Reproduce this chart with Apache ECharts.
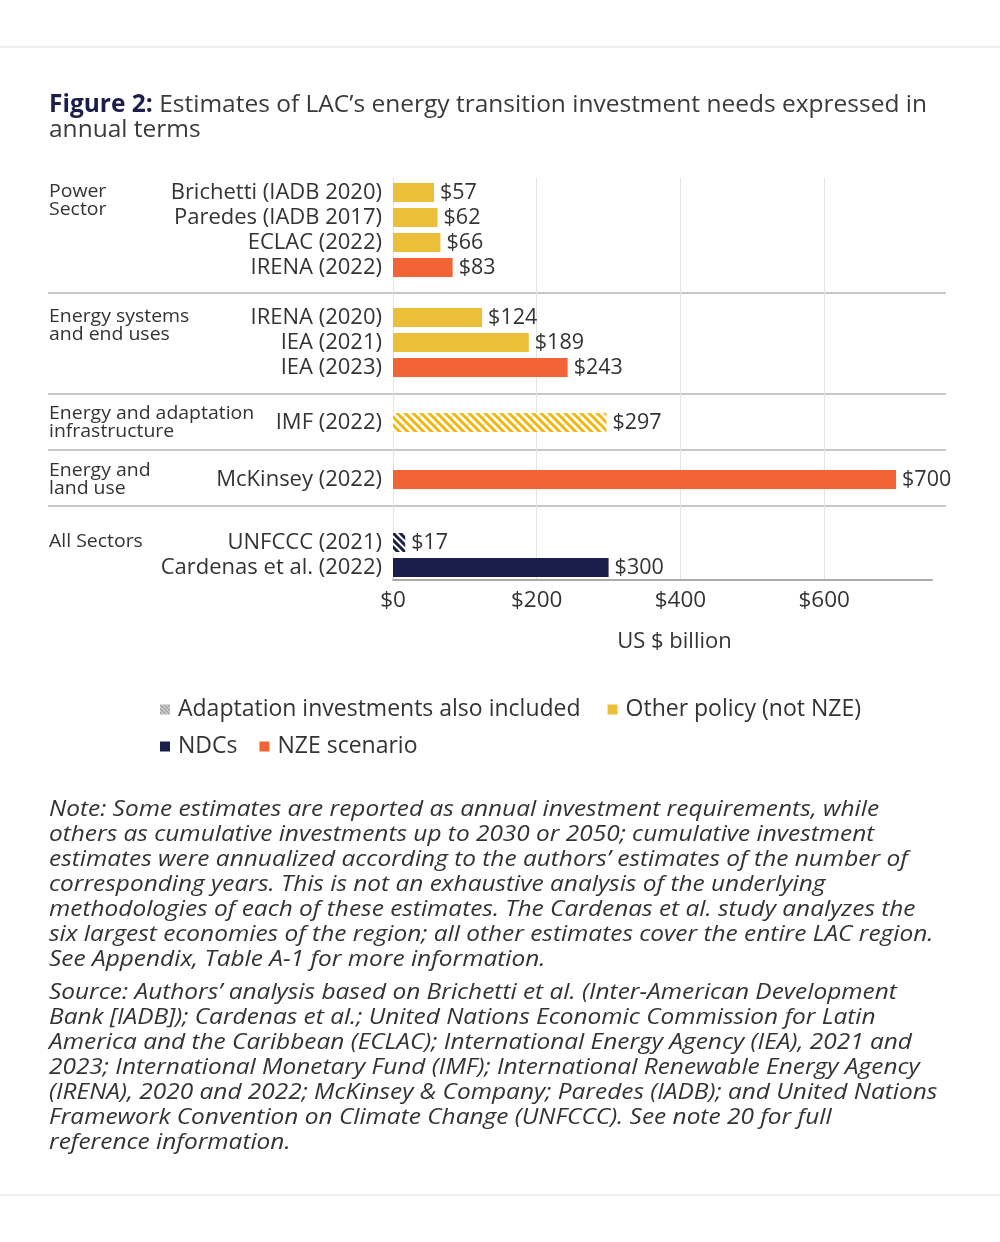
<!DOCTYPE html>
<html><head><meta charset="utf-8">
<script src="https://cdn.jsdelivr.net/npm/echarts@6/dist/echarts.min.js"></script>
<style>html,body{margin:0;padding:0;background:#fff}#c{width:1000px;height:1242px}</style>
</head><body><div id="c"></div>
<script>
const FONT = 'Open Sans';
const TXT = '#333333';

// ---- data ----
const powerCats = ['Brichetti (IADB 2020)', 'Paredes (IADB 2017)', 'ECLAC (2022)', 'IRENA (2022)'];
const powerVals = [57, 62, 66, 83];
const powerTypes = ['other', 'other', 'other', 'nze'];

const systemsCats = ['IRENA (2020)', 'IEA (2021)', 'IEA (2023)'];
const systemsVals = [124, 189, 243];
const systemsTypes = ['other', 'other', 'nze'];

const adaptCats = ['IMF (2022)'];
const adaptVals = [297];
const adaptTypes = ['otherAdapt'];

const landCats = ['McKinsey (2022)'];
const landVals = [700];
const landTypes = ['nze'];

const allCats = ['UNFCCC (2021)', 'Cardenas et al. (2022)'];
const allVals = [17, 300];
const allTypes = ['ndcAdapt', 'ndc'];

const groupLabels = ['Power\nSector', 'Energy systems\nand end uses', 'Energy and adaptation\ninfrastructure', 'Energy and\nland use', 'All Sectors'];
const legendRow1 = ['Adaptation investments also included', 'Other policy (not NZE)'];
const legendRow2 = ['NDCs', 'NZE scenario'];
const axisMin = 0, axisMax = 750, axisStep = 200;
const axisName = 'US $ billion';

const titleBold = 'Figure 2:';
const titleRest = ' Estimates of LAC\u2019s energy transition investment needs expressed in\nannual terms';

const noteLines = [
 'Note: Some estimates are reported as annual investment requirements, while',
 'others as cumulative investments up to 2030 or 2050; cumulative investment',
 'estimates were annualized according to the authors\u2019 estimates of the number of',
 'corresponding years. This is not an exhaustive analysis of the underlying',
 'methodologies of each of these estimates. The Cardenas et al. study analyzes the',
 'six largest economies of the region; all other estimates cover the entire LAC region.',
 'See Appendix, Table A-1 for more information.'
];
const sourceLines = [
 'Source: Authors\u2019 analysis based on Brichetti et al. (Inter-American Development',
 'Bank [IADB]); Cardenas et al.; United Nations Economic Commission for Latin',
 'America and the Caribbean (ECLAC); International Energy Agency (IEA), 2021 and',
 '2023; International Monetary Fund (IMF); International Renewable Energy Agency',
 '(IRENA), 2020 and 2022; McKinsey & Company; Paredes (IADB); and United Nations',
 'Framework Convention on Climate Change (UNFCCC). See note 20 for full',
 'reference information.'
];

// ---- styles ----
function stripes(fg, bg, size, lw) {
  const c = document.createElement('canvas');
  c.width = c.height = size;
  const g = c.getContext('2d');
  g.fillStyle = bg; g.fillRect(0, 0, size, size);
  g.strokeStyle = fg; g.lineWidth = lw;
  g.beginPath();
  for (let k = -1; k <= 1; k++) { g.moveTo(k * size - 1, -1); g.lineTo(k * size + size + 1, size + 1); }
  g.stroke();
  return { image: c, repeat: 'repeat' };
}
const YELLOW = '#ECBF3A', ORANGE = '#F26336', NAVY = '#1B1D4B';
const colors = {
  other: YELLOW,
  nze: ORANGE,
  ndc: NAVY,
  otherAdapt: stripes('#F5B70F', '#ffffff', 8, 3),
  ndcAdapt: stripes(NAVY, '#ffffff', 7, 3)
};
const adaptLegendColor = stripes('#999999', '#dddddd', 4, 1.5);

const groups = [
  { cats: powerCats, vals: powerVals, types: powerTypes, top: 180 },
  { cats: systemsCats, vals: systemsVals, types: systemsTypes, top: 305 },
  { cats: adaptCats, vals: adaptVals, types: adaptTypes, top: 410 },
  { cats: landCats, vals: landVals, types: landTypes, top: 467 },
  { cats: allCats, vals: allVals, types: allTypes, top: 530 }
];
const ROW = 25, LEFT = 393, RIGHT = 68;

const grid = [{ left: LEFT, right: RIGHT, top: 178, bottom: 1242 - 579.5 }];
const xAxis = [{
  gridIndex: 0, type: 'value', min: axisMin, max: axisMax, interval: axisStep,
  name: axisName, nameLocation: 'middle', nameGap: 51,
  nameTextStyle: { fontSize: 22, color: TXT, fontFamily: FONT, padding: [0, 0, 0, 24] },
  axisLine: { show: true, lineStyle: { color: '#aaaaaa', width: 2 } },
  axisTick: { show: false },
  axisLabel: { fontSize: 22.5, color: TXT, fontFamily: FONT, margin: 10, showMaxLabel: false, formatter: v => '$' + v },
  splitLine: { show: true, showMaxLine: false, lineStyle: { color: '#e3e3e3', width: 1 } }
}];
const yAxis = [{ gridIndex: 0, type: 'category', data: [], show: false }];
const series = [];

groups.forEach((g, i) => {
  const gi = i + 1;
  grid.push({ left: LEFT, right: RIGHT, top: g.top, height: g.cats.length * ROW });
  xAxis.push({ gridIndex: gi, type: 'value', min: axisMin, max: axisMax, show: false, splitLine: { show: false } });
  yAxis.push({
    gridIndex: gi, type: 'category', data: g.cats, inverse: true,
    axisLine: { show: false }, axisTick: { show: false },
    axisLabel: { interval: 0, fontSize: 22, color: TXT, fontFamily: FONT, margin: 11 }
  });
  series.push({
    type: 'bar', name: 'group' + i, xAxisIndex: gi, yAxisIndex: gi, barWidth: 19, silent: true,
    data: g.vals.map((v, j) => ({ value: v, itemStyle: { color: colors[g.types[j]] } })),
    label: { show: true, position: 'right', distance: 6, fontSize: 21.5, color: TXT, fontFamily: FONT, formatter: p => '$' + p.value }
  });
});

const legendColors = {};
legendColors[legendRow1[0]] = adaptLegendColor;
legendColors[legendRow1[1]] = YELLOW;
legendColors[legendRow2[0]] = NAVY;
legendColors[legendRow2[1]] = ORANGE;
legendRow1.concat(legendRow2).forEach(n => {
  series.push({ type: 'bar', name: n, xAxisIndex: 0, yAxisIndex: 0, data: [], itemStyle: { color: legendColors[n] } });
});

const legendBase = { icon: 'rect', itemWidth: 10, itemHeight: 10, left: 155, orient: 'horizontal', selectedMode: false,
  textStyle: { fontSize: 23, color: TXT, fontFamily: FONT, padding: [0, 0, 0, 3] } };

const sepYs = [293, 394, 450, 506];
const labelTops = [183, 308, 405, 462, 533];
const graphic = [
  { type: 'line', shape: { x1: 0, y1: 47, x2: 1000, y2: 47 }, style: { stroke: '#dddddd', lineWidth: 1 } },
  { type: 'line', shape: { x1: 0, y1: 1195, x2: 1000, y2: 1195 }, style: { stroke: '#dddddd', lineWidth: 1 } }
];
sepYs.forEach(y => graphic.push({ type: 'line', shape: { x1: 48, y1: y, x2: 946, y2: y }, style: { stroke: '#b5b5b5', lineWidth: 1.5 } }));
groupLabels.forEach((t, i) => graphic.push({
  type: 'text', x: 49, y: labelTops[i], scaleX: 1.08,
  style: { x: 0, y: 0, text: t, fontSize: 18, lineHeight: 18, fill: TXT, fontFamily: FONT, verticalAlign: 'top' }
}));
graphic.push({ type: 'text', x: 49, y: 797, scaleX: 1.11, style: { x: 0, y: 0, text: noteLines.join('\n'), fontSize: 22, lineHeight: 25, fill: TXT, fontFamily: FONT, fontStyle: 'italic', verticalAlign: 'top' } });
graphic.push({ type: 'text', x: 49, y: 980, scaleX: 1.11, style: { x: 0, y: 0, text: sourceLines.join('\n'), fontSize: 22, lineHeight: 25, fill: TXT, fontFamily: FONT, fontStyle: 'italic', verticalAlign: 'top' } });

const chart = echarts.init(document.getElementById('c'), null, { renderer: 'canvas' });
chart.setOption({
  backgroundColor: '#ffffff',
  animation: false,
  title: {
    left: 49, top: 93, padding: 0,
    text: '{b|' + titleBold + '}' + titleRest,
    textStyle: {
      fontSize: 24.5, lineHeight: 25, color: '#3a3a3a', fontFamily: FONT, fontWeight: 'normal',
      rich: { b: { fontSize: 24.5, lineHeight: 25, color: '#1B1E4A', fontFamily: FONT, fontWeight: 'bold' } }
    }
  },
  grid, xAxis, yAxis, series,
  legend: [
    Object.assign({}, legendBase, { top: 693, itemGap: 27, data: legendRow1 }),
    Object.assign({}, legendBase, { top: 730, itemGap: 22, data: legendRow2 })
  ],
  graphic
});
</script></body></html>
